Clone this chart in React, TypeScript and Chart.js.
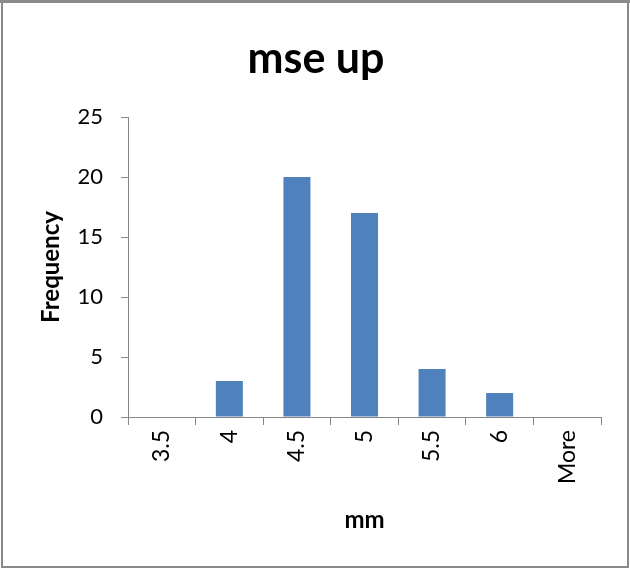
import React, { useEffect, useRef } from "react";
import { Chart, registerables } from "chart.js";

Chart.register(...registerables);

// Histogram bins and counts
const categories: string[] = ["3.5", "4", "4.5", "5", "5.5", "6", "More"];
const frequency: number[] = [0, 3, 20, 17, 4, 2, 0];

// Axis range and tick step for the count axis
const yMin = 0;
const yMax = 25;
const yStep = 5;

const chartTitle = "mse up";
const xTitle = "mm";
const yTitle = "Frequency";

const W = 630;
const H = 569;
const FONT = "Lato, 'Open Sans', 'DejaVu Sans', sans-serif";
const AXIS_GRAY = "#868686";
const BAR_BLUE = "#4F81BD";

// Frame, chart title and axis titles drawn on top of the chart
const decorPlugin = {
  id: "decor",
  afterDraw(chart: Chart) {
    const ctx = chart.ctx;
    const area = chart.chartArea;
    ctx.save();

    // outer frame
    ctx.strokeStyle = "#8a8a8a";
    ctx.lineWidth = 2;
    ctx.strokeRect(2, 2, W - 4, H - 4);
    ctx.fillStyle = "#8a8a8a";
    ctx.fillRect(0, 0, W, 3);

    ctx.fillStyle = "#000";

    // chart title
    ctx.font = `bold 43px ${FONT}`;
    ctx.textAlign = "center";
    ctx.textBaseline = "alphabetic";
    ctx.fillText(chartTitle, 316, 73);

    // x-axis title
    ctx.font = `bold 24px ${FONT}`;
    ctx.textAlign = "center";
    ctx.textBaseline = "alphabetic";
    ctx.fillText(xTitle, (area.left + area.right) / 2, 528);

    // y-axis title
    ctx.translate(59, (area.top + area.bottom) / 2);
    ctx.rotate(-Math.PI / 2);
    ctx.textAlign = "center";
    ctx.textBaseline = "alphabetic";
    ctx.fillText(yTitle, 0, 0);

    ctx.restore();
  },
};

export default function App() {
  const canvasRef = useRef<HTMLCanvasElement | null>(null);

  useEffect(() => {
    const canvas = canvasRef.current;
    if (!canvas) return;

    const chart = new Chart(canvas, {
      type: "bar",
      data: {
        labels: categories,
        datasets: [
          {
            label: "Frequency",
            data: frequency,
            backgroundColor: BAR_BLUE,
            borderWidth: 0,
            barPercentage: 0.4,
            categoryPercentage: 1,
          },
        ],
      },
      options: {
        responsive: false,
        animation: false,
        devicePixelRatio: 1,
        layout: { padding: { top: 117, right: 29, left: 0, bottom: 0 } },
        plugins: {
          legend: { display: false },
          title: { display: false },
          tooltip: { enabled: false },
        },
        scales: {
          x: {
            type: "category",
            offset: true,
            grid: {
              offset: true,
              drawOnChartArea: false,
              drawTicks: true,
              tickLength: 8,
              color: AXIS_GRAY,
              lineWidth: 1,
            },
            border: { display: true, color: AXIS_GRAY, width: 1 },
            ticks: {
              autoSkip: false,
              minRotation: 90,
              maxRotation: 90,
              padding: 5,
              color: "#000",
              font: { family: FONT, size: 23 },
            },
            afterFit: (scale: any) => {
              scale.height = 152;
            },
          },
          y: {
            min: yMin,
            max: yMax,
            grid: {
              drawOnChartArea: false,
              drawTicks: true,
              tickLength: 7,
              color: AXIS_GRAY,
              lineWidth: 1,
            },
            border: { display: true, color: AXIS_GRAY, width: 1 },
            ticks: {
              stepSize: yStep,
              padding: 18,
              color: "#000",
              font: { family: FONT, size: 22 },
            },
            afterFit: (scale: any) => {
              scale.width = 128;
            },
          },
        },
      },
      plugins: [decorPlugin],
    });

    return () => chart.destroy();
  }, []);

  return (
    <div style={{ position: "absolute", left: 0, top: 0, width: W, height: H, background: "#fff" }}>
      <canvas ref={canvasRef} width={W} height={H} style={{ display: "block" }} />
    </div>
  );
}
